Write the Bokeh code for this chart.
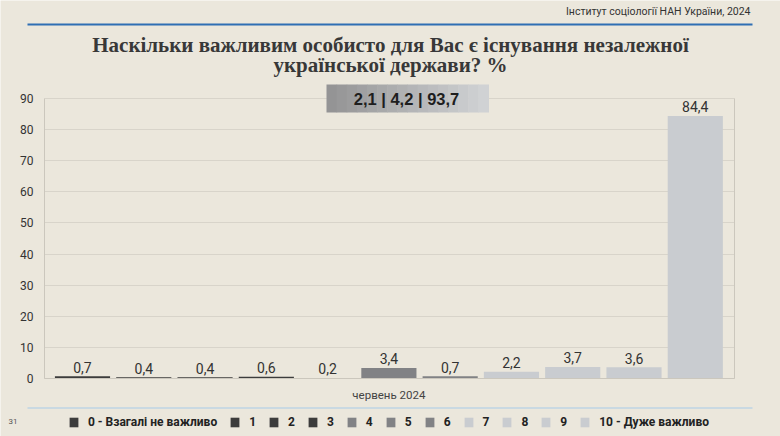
from bokeh.plotting import figure
from bokeh.models import (ColumnDataSource, Range1d, FixedTicker, Legend, LegendItem,
                          Label, BoxAnnotation)
from bokeh.core.properties import value, field
from bokeh.embed import file_html
from bokeh.resources import INLINE

# ---------------- data ----------------
categories = ["0 - Взагалі не важливо", "1", "2", "3", "4", "5", "6", "7", "8", "9",
              "10 - Дуже важливо"]
values = [0.7, 0.4, 0.4, 0.6, 0.2, 3.4, 0.7, 2.2, 3.7, 3.6, 84.4]
period = "червень 2024"
summary = [2.1, 4.2, 93.7]
y_ticks = [0, 10, 20, 30, 40, 50, 60, 70, 80, 90]
title_lines = ["Наскільки важливим особисто для Вас є існування незалежної",
               "української держави? %"]
source_note = "Інститут соціології НАН України, 2024"
page_number = "31"

# ---------------- style / geometry ----------------
W, H = 780, 436
BG = "#ebe7dc"
DARK, MID, LIGHT = "#3c3c3c", "#818285", "#c9ccd0"
GRID = "#d8d4ca"
AXIS = "#cbc7bd"
SANS = "Roboto"

# plot area in canvas pixels (left, right, y=0 row, y=90 row)
PL, PR, PB, PT = 44, 734, 378, 98
x_lo, x_hi = -0.62, 10.64
y_lo, y_hi = y_ticks[0], y_ticks[-1]
ppx = (PR - PL) / (x_hi - x_lo)
ppy = (PB - PT) / (y_hi - y_lo)
x_range = Range1d(x_lo - PL / ppx, x_hi + (W - PR) / ppx)
y_range = Range1d(y_lo - (H - PB) / ppy, y_hi + PT / ppy)


def group_color(i):
    if i <= 3:
        return DARK
    if i <= 6:
        return MID
    return LIGHT


def fmt(v):
    return f"{v:.1f}".replace(".", ",")


src = ColumnDataSource(dict(
    x=list(range(len(categories))),
    value=values,
    category=categories,
    label=[fmt(v) for v in values],
    color=[group_color(i) for i in range(len(categories))],
))

p = figure(width=W, height=H, x_range=x_range, y_range=y_range,
           output_backend="svg", toolbar_location=None,
           min_border_left=0, min_border_right=0,
           min_border_top=0, min_border_bottom=0,
           background_fill_color=BG, border_fill_color=BG,
           outline_line_color=None)
p.title.visible = False

# grid
yg = p.ygrid[0]
if "cross_bounds" in yg.properties():
    yg.cross_bounds = (x_lo, x_hi)
    yg.grid_line_color = GRID
else:
    yg.visible = False
    p.segment(x0=[x_lo] * len(y_ticks), x1=[x_hi] * len(y_ticks), y0=y_ticks, y1=y_ticks,
              line_color=GRID, line_width=1)
p.xgrid.visible = False
# right border of the plot area
p.segment(x0=[x_hi], x1=[x_hi], y0=[y_lo], y1=[y_hi], line_color=AXIS, line_width=1)

bars = p.vbar(x="x", top="value", width=0.9, source=src,
              fill_color="color", line_color=None)
p.text(x="x", y="value", text="label", source=src,
       text_align="center", text_baseline="alphabetic", y_offset=-9,
       text_font=value(SANS), text_font_size="14px", text_color="#333333")

# axes drawn at fixed data positions
p.xaxis.fixed_location = y_lo
p.xaxis.bounds = (x_lo, x_hi)
p.xaxis.ticker = FixedTicker(ticks=[5])
p.xaxis.major_label_overrides = {5: period}
p.xaxis.major_tick_line_color = None
p.xaxis.major_tick_out = 0
p.xaxis.major_tick_in = 0
p.xaxis.minor_tick_line_color = None
p.xaxis.axis_line_color = AXIS
p.xaxis.major_label_standoff = 9
p.xaxis.major_label_text_font = SANS
p.xaxis.major_label_text_font_size = "11.5px"
p.xaxis.major_label_text_color = "#444444"

p.yaxis.fixed_location = x_lo
p.yaxis.bounds = (y_lo, y_hi)
p.yaxis.ticker = FixedTicker(ticks=y_ticks)
p.yaxis.major_tick_line_color = None
p.yaxis.major_tick_out = 0
p.yaxis.major_tick_in = 0
p.yaxis.minor_tick_line_color = None
p.yaxis.axis_line_color = AXIS
p.yaxis.major_label_standoff = 11
p.yaxis.major_label_text_font = SANS
p.yaxis.major_label_text_font_size = "12px"
p.yaxis.major_label_text_color = "#333333"

# legend (frame covers the whole canvas, so screen px = canvas px, y upward)
legend = Legend(items=[LegendItem(label=field("category"), renderers=[bars])],
                orientation="horizontal", location=(68, H - 429),
                glyph_width=11, glyph_height=12, label_standoff=9, spacing=12,
                label_width=1, label_height=12, padding=0, margin=0,
                background_fill_alpha=0, border_line_color=None,
                label_text_font=SANS, label_text_font_style="bold",
                label_text_font_size="12px", label_text_color="#222222")
p.add_layout(legend)


def hline(x0, x1, y_top_px, thick, color):
    p.add_layout(BoxAnnotation(left=x0, right=x1, bottom=H - y_top_px - thick, top=H - y_top_px,
                               left_units="screen", right_units="screen",
                               bottom_units="screen", top_units="screen",
                               fill_color=color, fill_alpha=1, line_alpha=0))


hline(27, 752, 23, 2, "#2f6fb4")
hline(27, 752, 407, 1, "#a8cbe8")

# gradient summary box
n = 16
bx0, bx1, by0, by1 = 326, 488, 84, 112
c0, c1 = (0x94, 0x94, 0x95), (0xd0, 0xd2, 0xd4)
for k in range(n):
    t = k / (n - 1)
    col = "#%02x%02x%02x" % tuple(int(round(a + (b - a) * t)) for a, b in zip(c0, c1))
    p.add_layout(BoxAnnotation(left=bx0 + (bx1 - bx0) * k / n,
                               right=bx0 + (bx1 - bx0) * (k + 1) / n + 0.5,
                               bottom=H - by1, top=H - by0,
                               left_units="screen", right_units="screen",
                               bottom_units="screen", top_units="screen",
                               fill_color=col, fill_alpha=1, line_alpha=0))
p.add_layout(Label(x=406, y=H - 98, x_units="screen", y_units="screen",
                   text=" | ".join(fmt(v) for v in summary),
                   text_align="center", text_baseline="middle",
                   text_font="Liberation Sans", text_font_style="bold",
                   text_font_size="16.5px", text_color="#1e1e1e"))

# title
for i, line in enumerate(title_lines):
    p.add_layout(Label(x=390, y=H - 44 - 20 * i, x_units="screen", y_units="screen",
                       text=line, text_align="center", text_baseline="middle",
                       text_font="Liberation Serif", text_font_style="bold",
                       text_font_size="21px", text_color="#383838"))

p.add_layout(Label(x=750, y=H - 11, x_units="screen", y_units="screen",
                   text=source_note, text_align="right", text_baseline="middle",
                   text_font=SANS, text_font_size="10.5px", text_color="#333333"))
p.add_layout(Label(x=8, y=H - 421, x_units="screen", y_units="screen",
                   text=page_number, text_align="left", text_baseline="middle",
                   text_font=SANS, text_font_size="8px", text_color="#555555"))

open("out.html", "w").write(file_html(p, INLINE))
